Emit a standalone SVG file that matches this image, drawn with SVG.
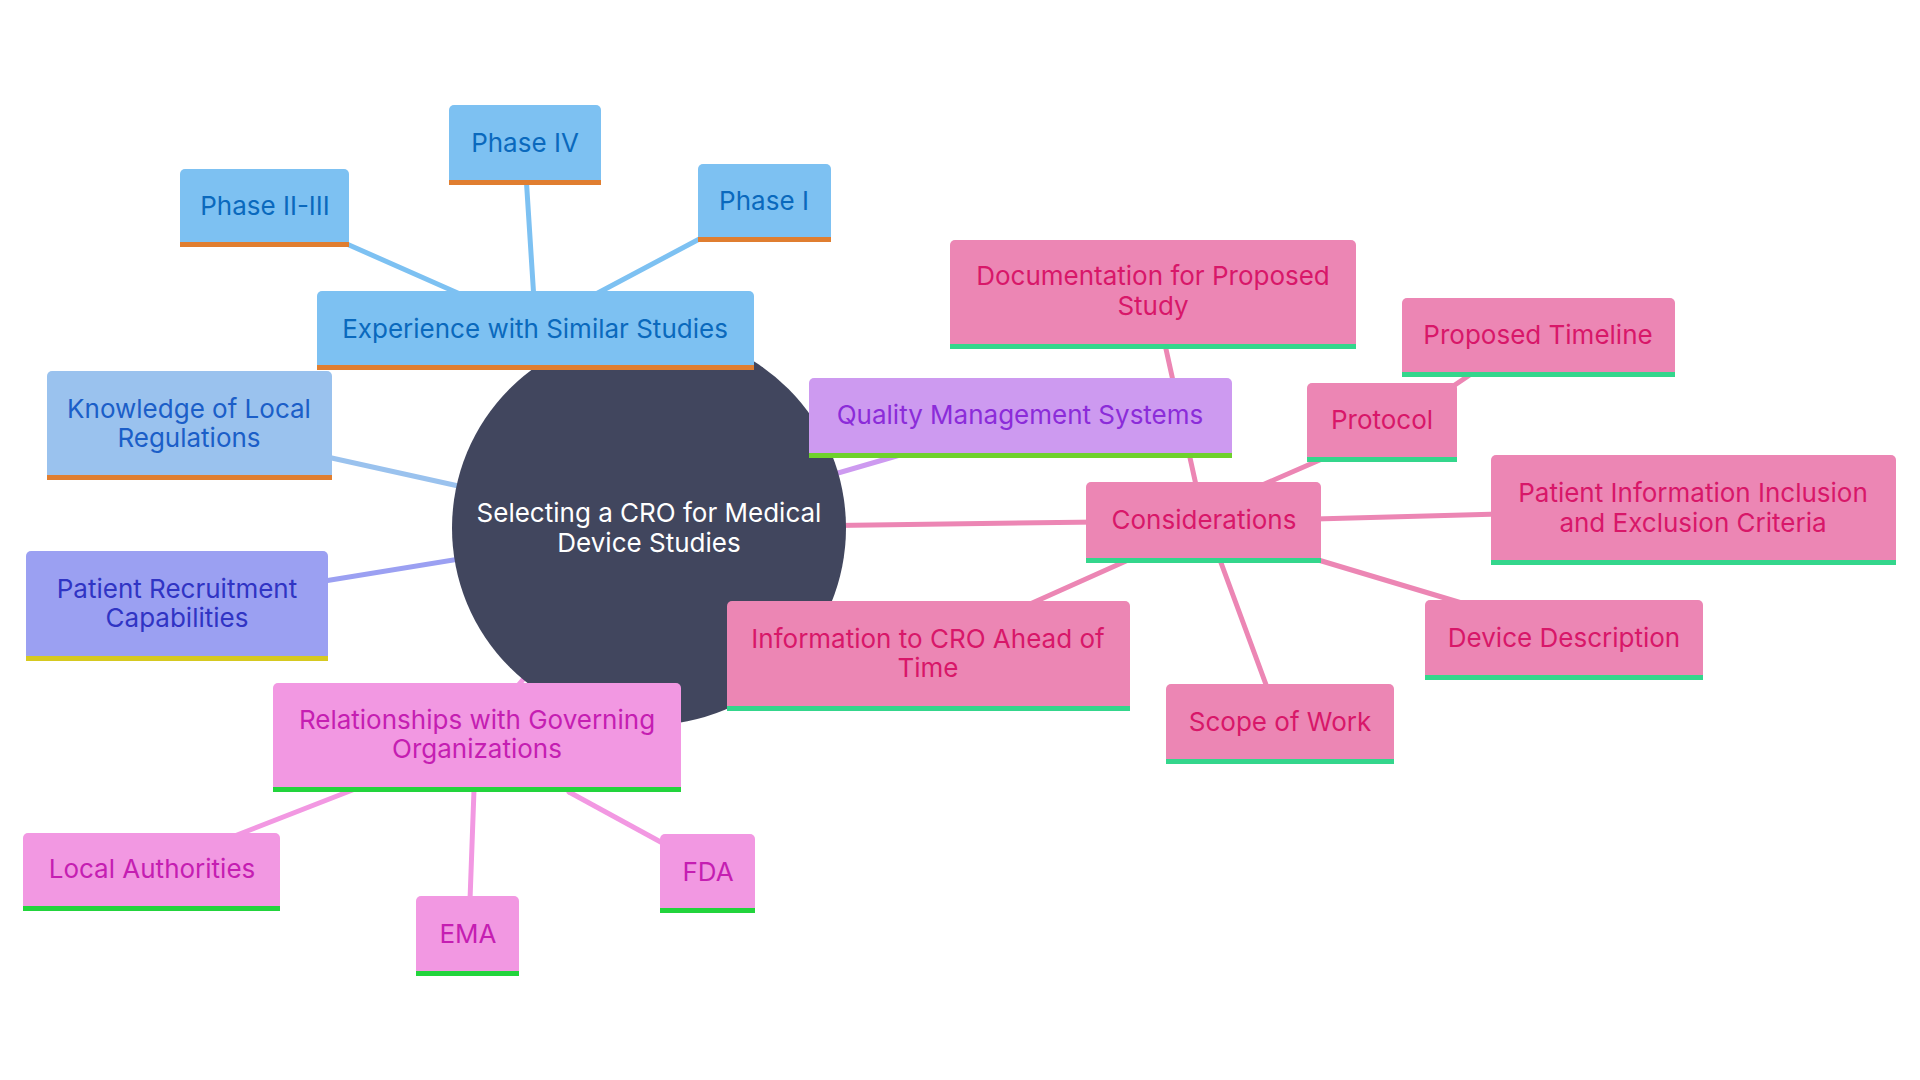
<svg xmlns="http://www.w3.org/2000/svg" width="1920" height="1080" viewBox="0 0 1920 1080">
<style>
text{font-family:Inter,"Noto Sans","Liberation Sans",sans-serif;font-size:26px;text-anchor:middle;dominant-baseline:central}
.e{fill:none;stroke-width:5;stroke-linecap:round}
.eb{stroke:#7DC1F2}.ek{stroke:#9AC2EE}.er{stroke:#9BA0F2}.eg{stroke:#F298E2}.eq{stroke:#CD9AF0}.ep{stroke:#EC86B4}
.fb{fill:#7DC1F2}.fk{fill:#9AC2EE}.fr{fill:#9BA0F2}.fg{fill:#F298E2}.fq{fill:#CD9AF0}.fp{fill:#EC86B4}
.tb{fill:#0A69BD}.tk{fill:#1B5EC8}.tr{fill:#3034C4}.tg{fill:#C51EB2}.tq{fill:#8B2CD9}.tp{fill:#D81769}
.bo{fill:#E07E30}.by{fill:#D6C920}.bg{fill:#22D43C}.bq{fill:#6ED12B}.bt{fill:#34D68C}
</style>
<rect width="1920" height="1080" fill="#FFFFFF"/>
<g id="connectors">
<line class="e eb" x1="649" y1="528" x2="535" y2="330"/>
<line class="e eb" x1="460" y1="294" x2="340" y2="241"/>
<line class="e eb" x1="534" y1="300" x2="526" y2="175"/>
<line class="e eb" x1="594" y1="295" x2="705" y2="236"/>
<line class="e ek" x1="300" y1="451" x2="649" y2="528"/>
<line class="e er" x1="300" y1="585" x2="649" y2="528"/>
<line class="e eg" x1="649" y1="528" x2="477" y2="735"/>
<line class="e eg" x1="355" y1="789" x2="232" y2="837"/>
<line class="e eg" x1="474" y1="790" x2="470" y2="900"/>
<line class="e eg" x1="569" y1="792" x2="668" y2="846"/>
<line class="e eq" x1="649" y1="528" x2="900" y2="455"/>
<line class="e ep" x1="649" y1="528" x2="1100" y2="522"/>
<line class="e ep" x1="1196" y1="485" x2="1164" y2="340"/>
<line class="e ep" x1="1260" y1="486" x2="1322" y2="459"/>
<line class="e ep" x1="1440" y1="395" x2="1480" y2="368"/>
<line class="e ep" x1="1315" y1="519" x2="1500" y2="514"/>
<line class="e ep" x1="1315" y1="559" x2="1465" y2="604"/>
<line class="e ep" x1="1220" y1="560" x2="1268" y2="690"/>
<line class="e ep" x1="1126" y1="561" x2="1030" y2="604"/>
</g>
<g id="center">
<circle cx="649" cy="528" r="197" fill="#41465E"/>
<text x="649" y="512" fill="#FFFFFF">Selecting a CRO for Medical</text>
<text x="649" y="542" fill="#FFFFFF">Device Studies</text>
</g>
<g id="n-experience">
<rect class="fb" x="317" y="291" width="437" height="79" rx="5"/><rect class="bo" x="317" y="365" width="437" height="5"/>
<text class="tb" x="535" y="328">Experience with Similar Studies</text>
</g>
<g id="n-phase23">
<rect class="fb" x="180" y="169" width="169" height="78" rx="5"/><rect class="bo" x="180" y="242" width="169" height="5"/>
<text class="tb" x="265" y="205">Phase II-III</text>
</g>
<g id="n-phase4">
<rect class="fb" x="449" y="105" width="152" height="80" rx="5"/><rect class="bo" x="449" y="180" width="152" height="5"/>
<text class="tb" x="525" y="142">Phase IV</text>
</g>
<g id="n-phase1">
<rect class="fb" x="698" y="164" width="133" height="78" rx="5"/><rect class="bo" x="698" y="237" width="133" height="5"/>
<text class="tb" x="764" y="200">Phase I</text>
</g>
<g id="n-knowledge">
<rect class="fk" x="47" y="371" width="285" height="109" rx="5"/><rect class="bo" x="47" y="475" width="285" height="5"/>
<text class="tk" x="189" y="408">Knowledge of Local</text>
<text class="tk" x="189" y="437">Regulations</text>
</g>
<g id="n-recruit">
<rect class="fr" x="26" y="551" width="302" height="110" rx="5"/><rect class="by" x="26" y="656" width="302" height="5"/>
<text class="tr" x="177" y="588">Patient Recruitment</text>
<text class="tr" x="177" y="617">Capabilities</text>
</g>
<g id="n-relationships">
<rect class="fg" x="273" y="683" width="408" height="109" rx="5"/><rect class="bg" x="273" y="787" width="408" height="5"/>
<text class="tg" x="477" y="719">Relationships with Governing</text>
<text class="tg" x="477" y="748">Organizations</text>
</g>
<g id="n-local">
<rect class="fg" x="23" y="833" width="257" height="78" rx="5"/><rect class="bg" x="23" y="906" width="257" height="5"/>
<text class="tg" x="152" y="868">Local Authorities</text>
</g>
<g id="n-ema">
<rect class="fg" x="416" y="896" width="103" height="80" rx="5"/><rect class="bg" x="416" y="971" width="103" height="5"/>
<text class="tg" x="468" y="933">EMA</text>
</g>
<g id="n-fda">
<rect class="fg" x="660" y="834" width="95" height="79" rx="5"/><rect class="bg" x="660" y="908" width="95" height="5"/>
<text class="tg" x="708" y="871">FDA</text>
</g>
<g id="n-qms">
<rect class="fq" x="809" y="378" width="423" height="80" rx="5"/><rect class="bq" x="809" y="453" width="423" height="5"/>
<text class="tq" x="1020" y="414">Quality Management Systems</text>
</g>
<g id="n-documentation">
<rect class="fp" x="950" y="240" width="406" height="109" rx="5"/><rect class="bt" x="950" y="344" width="406" height="5"/>
<text class="tp" x="1153" y="275">Documentation for Proposed</text>
<text class="tp" x="1153" y="305">Study</text>
</g>
<g id="n-timeline">
<rect class="fp" x="1402" y="298" width="273" height="79" rx="5"/><rect class="bt" x="1402" y="372" width="273" height="5"/>
<text class="tp" x="1538" y="334">Proposed Timeline</text>
</g>
<g id="n-protocol">
<rect class="fp" x="1307" y="383" width="150" height="79" rx="5"/><rect class="bt" x="1307" y="457" width="150" height="5"/>
<text class="tp" x="1382" y="419">Protocol</text>
</g>
<g id="n-considerations">
<rect class="fp" x="1086" y="482" width="235" height="81" rx="5"/><rect class="bt" x="1086" y="558" width="235" height="5"/>
<text class="tp" x="1204" y="519">Considerations</text>
</g>
<g id="n-patientinfo">
<rect class="fp" x="1491" y="455" width="405" height="110" rx="5"/><rect class="bt" x="1491" y="560" width="405" height="5"/>
<text class="tp" x="1693" y="492">Patient Information Inclusion</text>
<text class="tp" x="1693" y="522">and Exclusion Criteria</text>
</g>
<g id="n-device">
<rect class="fp" x="1425" y="600" width="278" height="80" rx="5"/><rect class="bt" x="1425" y="675" width="278" height="5"/>
<text class="tp" x="1564" y="637">Device Description</text>
</g>
<g id="n-scope">
<rect class="fp" x="1166" y="684" width="228" height="80" rx="5"/><rect class="bt" x="1166" y="759" width="228" height="5"/>
<text class="tp" x="1280" y="721">Scope of Work</text>
</g>
<g id="n-infocro">
<rect class="fp" x="727" y="601" width="403" height="110" rx="5"/><rect class="bt" x="727" y="706" width="403" height="5"/>
<text class="tp" x="928" y="638">Information to CRO Ahead of</text>
<text class="tp" x="928" y="667">Time</text>
</g>
</svg>
